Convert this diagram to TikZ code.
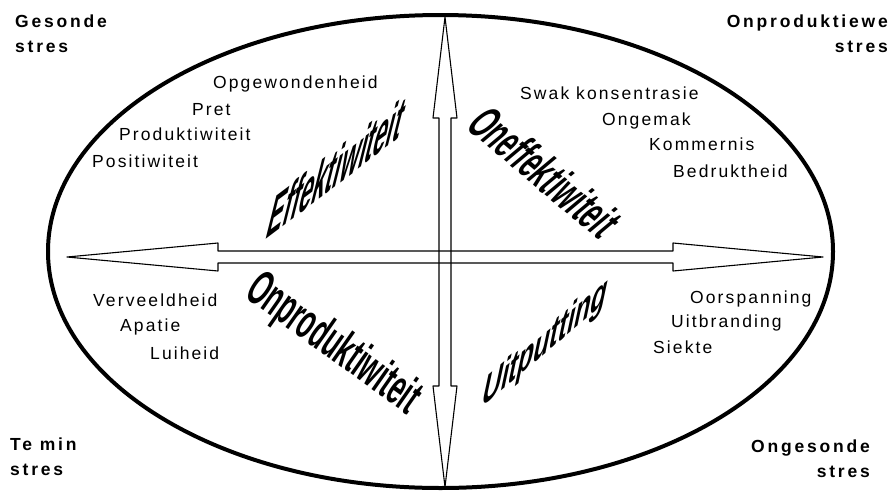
\documentclass[tikz,border=0pt]{standalone}
\usepackage{fontspec}
\setmainfont{Liberation Sans}
\newfontfamily\listfont[LetterSpace=12]{Liberation Sans}
\newfontfamily\cornerfont[LetterSpace=16]{Liberation Sans}
\newfontfamily\quadfont{Liberation Sans}
\usepackage{tikz}

\begin{document}
\begin{tikzpicture}[
    x=1pt, y=-1pt,
    ring/.style={line width=4pt},
    axis/.style={line width=1.1pt, line join=round},
    item/.style={font=\listfont\fontsize{17.5}{20}\selectfont, inner sep=0pt, anchor=base west},
    corner/.style={font=\cornerfont\bfseries\fontsize{17.5}{25}\selectfont, inner sep=0pt},
    quad/.style={font=\quadfont\bfseries\fontsize{10}{12}\selectfont, inner sep=0pt}
]
\useasboundingbox (0,0) rectangle (892,493);

% Outer ellipse
\draw[ring] (440.5,251.5) ellipse [x radius=392.5pt, y radius=236.5pt];

% Hollow double-headed arrows
\draw[axis] (445,17) -- (457,118) -- (451,118) -- (451,386) -- (457,386) -- (445,487)
    -- (433,386) -- (439,386) -- (439,118) -- (433,118) -- cycle;
\draw[axis] (67,257) -- (218,243) -- (218,251) -- (673,251) -- (673,243) -- (823,257)
    -- (673,271) -- (673,263) -- (218,263) -- (218,271) -- cycle;

% Corner labels
\node[corner, anchor=north west, align=left] (healthy) at (15,15) {Gesonde\\stres};
\node[corner, anchor=north east, align=right] (unprod) at (888,15) {Onproduktiewe\\stres};
\node[corner, anchor=north west, align=left] (toolow) at (10,438) {Te min\\stres};
\node[corner, anchor=north east, align=right] (unhealthy) at (870,440) {Ongesonde\\stres};

% Quadrant titles
\node[quad, cm={2.396,1.805,1.572,6.307,(0,0)}] (eff) at (337,167) {Effektiwiteit};
\node[quad, cm={1.953,-1.639,3.830,3.214,(0,0)}] (ineff) at (545,172) {Oneffektiwiteit};
\node[quad, cm={2.063,-1.499,2.868,4.096,(0,0)}] (noprod) at (333,345) {Onproduktiwiteit};
\node[quad, cm={2.643,2.218,0.998,4.695,(0,0)}] (exh) at (545,344) {Uitputting};

% Top left
\node[item] (opg) at (213,88) {Opgewondenheid};
\node[item] (pret) at (192,115) {Pret};
\node[item] (prod) at (119,140) {Produktiwiteit};
\node[item] (pos) at (92,167) {Positiwiteit};

% Top right
\node[item] (swak) at (520,99) {Swak konsentrasie};
\node[item] (onge) at (602,125) {Ongemak};
\node[item] (komm) at (649,150) {Kommernis};
\node[item] (bedr) at (673,177) {Bedruktheid};

% Bottom left
\node[item] (verv) at (93,306) {Verveeldheid};
\node[item] (apat) at (120,331) {Apatie};
\node[item] (luih) at (150,359) {Luiheid};

% Bottom right
\node[item] (oors) at (690,303) {Oorspanning};
\node[item] (uitb) at (671,327) {Uitbranding};
\node[item] (siek) at (653,353) {Siekte};

\end{tikzpicture}
\end{document}
